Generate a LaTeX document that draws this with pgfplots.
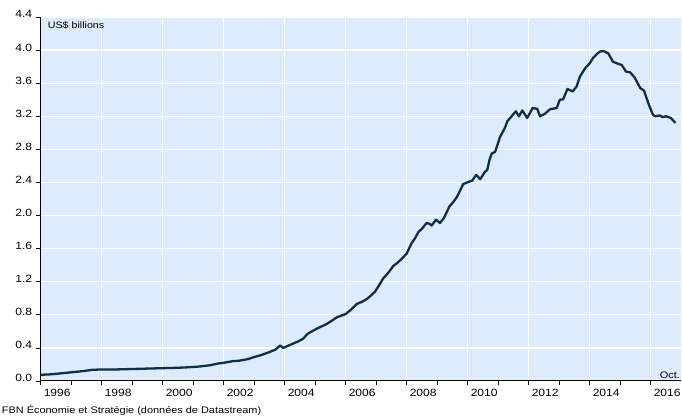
\documentclass[border=0pt]{standalone}
\usepackage{fontspec}
\setmainfont{Liberation Sans}
\usepackage{pgfplots}
\pgfplotsset{compat=1.18}
\definecolor{bgblue}{RGB}{222,235,252}
\definecolor{navy}{RGB}{12,48,74}
\begin{document}
\begin{tikzpicture}
\begin{axis}[
    scale only axis,
    width=640.5pt, height=364pt,
    xmin=1996, xmax=2017,
    ymin=0, ymax=4.4,
    axis background/.style={fill=bgblue},
    axis x line*=bottom, axis y line*=left,
    axis line style={black, line width=1pt},
    xtick={1996,1998,...,2016},
    minor xtick={1997,1999,...,2015},
    ytick={0,0.4,0.8,1.2,1.6,2.0,2.4,2.8,3.2,3.6,4.0,4.4},
    grid=major,
    major grid style={white, line width=1.3pt},
    tick align=outside,
    major tick length=4.5pt, minor tick length=4.5pt,
    tick style={black, line width=0.8pt},
    /pgf/number format/assume math mode=true,
    xticklabel style={/pgf/number format/1000 sep={}, anchor=north west,
        xshift=-1pt, font=\fontsize{10.5}{12}\selectfont, xscale=1.15},
    yticklabel style={/pgf/number format/.cd, fixed, fixed zerofill, precision=1,
        /tikz/.cd, anchor=base east, yshift=-1pt,
        font=\fontsize{10.5}{12}\selectfont, xscale=1.15},
]
\addplot[navy, line width=2.3pt, line join=round] coordinates {
(1996.0,0.075) (1996.3,0.08) (1996.6,0.09) (1997.0,0.105) (1997.4,0.12)
(1997.7,0.135) (1998.0,0.14) (1998.5,0.14) (1999.0,0.145) (1999.5,0.15)
(2000.0,0.155) (2000.5,0.16) (2000.8,0.165) (2001.2,0.175) (2001.55,0.19)
(2001.8,0.21) (2002.0,0.22) (2002.3,0.24) (2002.5,0.245) (2002.8,0.265)
(2003.0,0.29) (2003.2,0.31) (2003.5,0.35) (2003.7,0.38) (2003.85,0.43)
(2003.95,0.40) (2004.2,0.44) (2004.45,0.48) (2004.6,0.51) (2004.75,0.57)
(2004.94,0.61) (2005.15,0.65) (2005.38,0.69) (2005.55,0.73) (2005.71,0.77)
(2006.0,0.81) (2006.2,0.87) (2006.36,0.93) (2006.55,0.96) (2006.69,0.99)
(2006.85,1.04) (2006.96,1.08) (2007.1,1.16) (2007.23,1.24) (2007.4,1.31)
(2007.56,1.39) (2007.7,1.43) (2007.83,1.475) (2008.0,1.54) (2008.16,1.665)
(2008.28,1.73) (2008.38,1.80) (2008.5,1.84) (2008.65,1.91) (2008.75,1.90)
(2008.82,1.88) (2008.96,1.95) (2009.09,1.91) (2009.22,1.97) (2009.4,2.11)
(2009.52,2.16) (2009.64,2.22) (2009.75,2.30) (2009.85,2.38) (2010.05,2.41)
(2010.14,2.42) (2010.28,2.49) (2010.41,2.44) (2010.57,2.53) (2010.64,2.55)
(2010.72,2.68) (2010.79,2.75) (2010.9,2.77) (2011.06,2.95) (2011.22,3.06)
(2011.3,3.14) (2011.44,3.20) (2011.58,3.26) (2011.68,3.20) (2011.79,3.27)
(2011.95,3.18) (2012.13,3.30) (2012.28,3.29) (2012.37,3.20) (2012.53,3.23)
(2012.7,3.285) (2012.92,3.30) (2013.02,3.40) (2013.13,3.405) (2013.27,3.53)
(2013.44,3.50) (2013.57,3.56) (2013.68,3.68) (2013.85,3.78) (2014.0,3.84)
(2014.12,3.91) (2014.32,3.98) (2014.45,3.99) (2014.61,3.96) (2014.76,3.86)
(2014.89,3.84) (2015.05,3.82) (2015.19,3.74) (2015.33,3.73) (2015.47,3.67)
(2015.66,3.54) (2015.78,3.51) (2015.92,3.36) (2016.07,3.22) (2016.14,3.20)
(2016.3,3.21) (2016.39,3.19) (2016.5,3.20) (2016.66,3.18) (2016.81,3.12)
};
\node[anchor=north west, inner sep=0pt, font=\fontsize{9.3}{11}\selectfont, xscale=1.15]
    at (rel axis cs:0,1) [xshift=6pt, yshift=-4pt] {US\$ billions};
\node[anchor=base east, inner sep=0pt, font=\fontsize{9.5}{11}\selectfont, xscale=1.15]
    at (rel axis cs:1,0) [xshift=-1pt, yshift=2pt] {Oct.};
\end{axis}
\node[anchor=base west, inner sep=0pt, font=\fontsize{9.5}{11}\selectfont, xscale=1.15]
    at (-39pt,-33pt) {FBN Économie et Stratégie (données de Datastream)};
\pgfresetboundingbox
\path (-40.7pt,-36pt) rectangle (641.3pt,381pt);
\end{tikzpicture}
\end{document}
